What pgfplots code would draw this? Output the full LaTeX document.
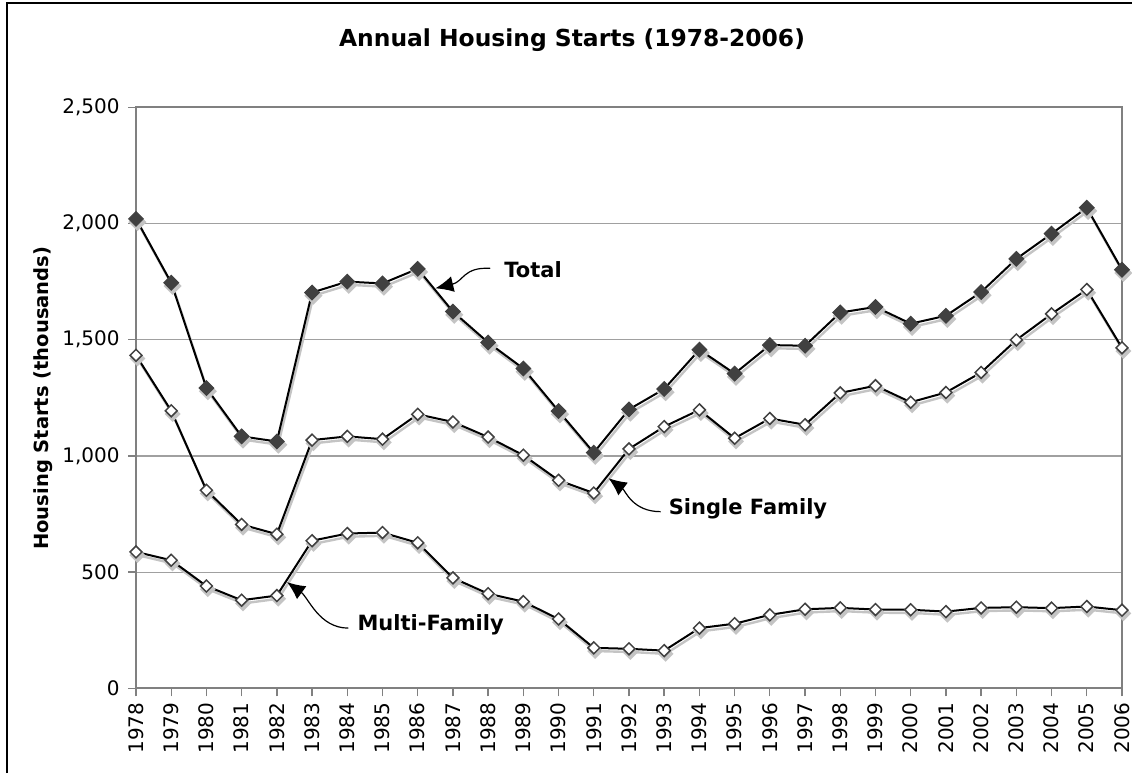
\documentclass[border=0pt]{standalone}
\usepackage{pgfplots}
\usepackage{pgfplotstable}
\pgfplotsset{compat=1.18}
\usepackage{fontspec}
\setmainfont{DejaVu Sans}
\usetikzlibrary{arrows.meta}

\definecolor{mk}{HTML}{404040}
\definecolor{shadow}{HTML}{C4C4C4}
\definecolor{gridc}{HTML}{A0A0A0}
\definecolor{axc}{HTML}{808080}

\pgfplotstableread{
year total single multi
1978 2020 1433 587
1979 1745 1194 551
1980 1292 852 440
1981 1084 705 379
1982 1062 663 399
1983 1703 1068 635
1984 1750 1084 666
1985 1742 1072 670
1986 1805 1179 626
1987 1621 1146 475
1988 1488 1081 407
1989 1376 1003 373
1990 1193 895 298
1991 1014 840 174
1992 1200 1030 170
1993 1288 1126 162
1994 1457 1198 259
1995 1354 1076 278
1996 1477 1161 316
1997 1474 1134 340
1998 1617 1271 346
1999 1641 1302 339
2000 1569 1231 338
2001 1603 1273 330
2002 1705 1359 346
2003 1848 1499 349
2004 1956 1611 345
2005 2068 1716 352
2006 1801 1465 336
}\data

\begin{document}
\begin{tikzpicture}[x=1pt,y=1pt]
\begin{axis}[
  at={(0,0)}, anchor=south west,
  scale only axis, width=493pt, height=290.5pt,
  xmin=1978, xmax=2006, ymin=0, ymax=2500,
  xtick={1978,...,2006}, ytick={0,500,...,2500},
  ymajorgrids, grid style={gridc, line width=0.6pt},
  axis line style={axc, line width=0.9pt},
  tick style={axc, line width=0.7pt},
  tick align=outside, major tick length=4pt,
  xtick pos=bottom, ytick pos=left,
  font=\fontsize{10}{12}\selectfont,
  /pgf/number format/assume math mode=true,
  xticklabel style={rotate=90, anchor=east, /pgf/number format/1000 sep={}, inner sep=0pt, text height=7.3pt, text depth=0pt, xshift=-3pt},
  yticklabel style={/pgf/number format/1000 sep={,}, inner sep=2pt, xshift=-2pt},
  scaled y ticks=false,
  clip=false,
]
% shadows
\addplot[shadow, line width=1.2pt, xshift=0.7pt, yshift=-1.6pt, mark=square*, mark size=2.6pt, mark options={rotate=45, fill=shadow, draw=shadow}] table[x=year,y=total]{\data};
\addplot[shadow, line width=1.2pt, xshift=0.7pt, yshift=-1.6pt, mark=square*, mark size=2.2pt, mark options={rotate=45, fill=shadow, draw=shadow}] table[x=year,y=single]{\data};
\addplot[shadow, line width=1.2pt, xshift=0.7pt, yshift=-1.6pt, mark=square*, mark size=2.2pt, mark options={rotate=45, fill=shadow, draw=shadow}] table[x=year,y=multi]{\data};
% series
\addplot[black, line width=1pt, mark=square*, mark size=2.6pt, mark options={rotate=45, fill=mk, draw=mk, line width=0.5pt}] table[x=year,y=total]{\data};
\addplot[black, line width=1pt, mark=square*, mark size=2.1pt, mark options={rotate=45, fill=white, draw=mk, line width=0.75pt}] table[x=year,y=single]{\data};
\addplot[black, line width=1pt, mark=square*, mark size=2.1pt, mark options={rotate=45, fill=white, draw=mk, line width=0.75pt}] table[x=year,y=multi]{\data};
% annotations
\draw[-{Latex[length=9pt,width=8pt]}, line width=0.6pt] (axis cs:1988.06,1807) .. controls (axis cs:1987.3,1814) and (axis cs:1987.3,1750) .. (axis cs:1986.5,1721);
\node[anchor=west, font=\fontsize{10.5}{12}\selectfont\bfseries, inner sep=0pt] at (axis cs:1988.45,1803) {Total};
\draw[-{Latex[length=9pt,width=8pt]}, line width=0.6pt] (axis cs:1992.90,760) .. controls (axis cs:1992.1,760) and (axis cs:1991.9,850) .. (axis cs:1991.42,904);
\node[anchor=west, font=\fontsize{10.5}{12}\selectfont\bfseries, inner sep=0pt] at (axis cs:1993.12,772) {Single Family};
\draw[-{Latex[length=9pt,width=8pt]}, line width=0.6pt] (axis cs:1984.03,259) .. controls (axis cs:1983.2,259) and (axis cs:1982.9,390) .. (axis cs:1982.29,457);
\node[anchor=west, font=\fontsize{10.5}{12}\selectfont\bfseries, inner sep=0pt] at (axis cs:1984.28,273) {Multi-Family};
\end{axis}
\node[font=\fontsize{11.7}{14}\selectfont\bfseries] at (218,324) {Annual Housing Starts (1978-2006)};
\node[rotate=90, font=\fontsize{9.75}{12}\selectfont\bfseries] at (-46.5,145) {Housing Starts (thousands)};
\draw[black, line width=1pt] (-64.5,-42.35) -- (-64.5,342.6) -- (498,342.6);
\pgfresetboundingbox
\path[use as bounding box] (-68,-42.35) rectangle (498,344.15);
\end{tikzpicture}
\end{document}
